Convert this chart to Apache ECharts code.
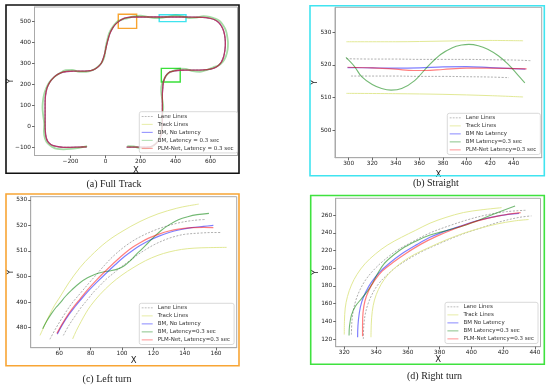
<!DOCTYPE html>
<html><head><meta charset="utf-8">
<script src="https://cdn.jsdelivr.net/npm/echarts@6/dist/echarts.min.js"></script>
<style>html,body{margin:0;padding:0;background:#fff}#c{width:550px;height:387px}</style>
</head><body><div id="c"></div>
<script>
// ================= DATA =================
// (a) Full track
const fullCenter = [[-107,-98],[-150,-99],[-200,-100],[-241,-100],[-280,-96],[-310,-88],[-330,-72],[-340,-50],[-344,-20],[-345,20],[-345,60],[-345,100],[-344,135],[-339,165],[-329,192],[-311,218],[-285,240],[-255,254],[-222,260],[-180,262],[-140,262],[-100,263],[-70,268],[-45,280],[-25,298],[-13,322],[-3,350],[5,380],[14,410],[25,440],[40,465],[58,485],[80,500],[105,512],[130,517],[160,519],[200,519],[250,519],[300,519],[350,519],[400,519],[450,519],[500,518],[550,517],[590,514],[620,507],[645,494],[663,475],[676,450],[683,420],[685,390],[682,360],[675,330],[662,305],[640,285],[616,275],[580,269],[540,267],[500,267],[460,267],[426,266],[395,263],[369,258],[350,245],[338,228],[330,205],[327,179],[325,150],[325,110],[325,68],[325,30],[324,0],[320,-30],[310,-58],[292,-80],[265,-95],[235,-99],[197,-99],[160,-99],[121,-99]];
const fullBMLatency = [[-105,-95],[-150,-103],[-200,-108],[-240,-110],[-275,-108],[-305,-98],[-330,-82],[-346,-58],[-352,-25],[-350,10],[-356,50],[-360,90],[-356,130],[-348,160],[-335,188],[-318,212],[-290,236],[-262,252],[-228,266],[-190,268],[-150,258],[-110,258],[-75,266],[-45,282],[-22,302],[-8,326],[-2,352],[2,380],[10,410],[20,440],[33,462],[50,482],[72,500],[100,508],[130,514],[160,522],[200,525],[240,520],[280,514],[320,515],[360,521],[400,526],[440,522],[480,514],[520,516],[560,523],[595,520],[625,512],[652,500],[672,480],[688,455],[696,425],[700,395],[698,365],[688,332],[670,306],[645,289],[616,280],[580,268],[540,259],[500,262],[460,272],[426,274],[395,266],[365,255],[345,238],[333,220],[322,200],[318,175],[320,150],[326,120],[330,90],[326,60],[320,30],[322,0],[318,-30],[305,-58],[288,-82],[260,-101],[230,-106],[195,-104],[160,-96],[125,-95]];
const zoomBoxLeft = [[73,465],[178,532]];
const zoomBoxStraight = [[307,497],[460,530]];
const zoomBoxRight = [[319,210],[427,275]];
const fullXTicks = [-200,0,200,400,600];
const fullYTicks = [-100,0,100,200,300,400,500];

// (b) Straight
const straightLaneUpper = [[298,521.9],[320,521.8],[340,521.8],[360,521.7],[380,521.7],[400,521.7],[420,521.6],[440,521.5],[455,521.3]];
const straightLaneLower = [[302,516.6],[320,516.6],[340,516.6],[360,516.5],[380,516.5],[400,516.4],[420,516.3],[436,516.1]];
const straightTrackUpper = [[298,527.1],[340,527.1],[380,527.3],[420,527.5],[448,527.4]];
const straightTrackLower = [[298,511.3],[340,511.2],[380,511.0],[420,510.6],[448,510.2]];
const straightBM = [[299,519.2],[320,519.1],[340,519.0],[360,519.1],[380,519.4],[400,519.5],[420,519.2],[440,518.9],[450,518.7]];
const straightBMLatency = [[297.7,522.3],[305,519.5],[311,516.4],[320,514],[328,512.8],[336,512.3],[345,512.8],[356,515.2],[367,519.5],[378,523.2],[388,525.3],[396,526.1],[402,526.3],[410,525.9],[418,524.8],[427,522.8],[435,520.3],[442,517.6],[449.5,514.5]];
const straightPLM = [[299,519.3],[320,519.1],[340,518.7],[355,518.3],[365,518.3],[380,518.6],[400,519.0],[420,519.0],[440,518.9],[451,518.8]];
const straightXTicks = [300,320,340,360,380,400,420,440];
const straightYTicks = [500,510,520,530];

// (c) Left turn
const leftLaneUpper = [[54,475.5],[58,480],[63,485],[68,489.5],[73.2,493.3],[79,497.5],[84,501],[89,504.5],[94.5,508],[103,512.3],[111.5,515.5],[123,518.6],[135,520.8],[145,521.9],[153,522.3]];
const leftLaneLower = [[62.6,477],[66,480.8],[70,484.5],[74,488],[78,491],[82,494],[86,496.5],[90,499],[95,501.5],[100,504],[105,506.2],[110,508.5],[115,510.5],[121,512.6],[128,514.5],[134,515.7],[140,516.5],[150,517],[158,517.2],[163.6,517.2]];
const leftTrackUpper = [[47.7,477],[51,481.5],[54,485.3],[57,488.8],[60.4,492],[66,497.5],[73.2,503.5],[80,508],[90,513.5],[100,517.6],[111.5,521.5],[123,524.5],[135,526.7],[142,527.6],[149,528.3]];
const leftTrackLower = [[68.5,475.6],[71,479],[74,482.5],[77,485.8],[80,488.6],[86,493],[93,497.2],[100,500.6],[107,503.4],[115,506.2],[123,508.3],[130,509.6],[138,510.6],[146,511.1],[155,511.3],[166.8,511.4]];
const leftBM = [[58.7,477.5],[62,481.2],[66,485],[70,488.2],[73.2,490.6],[78,494],[84,497.8],[90.2,501.5],[96,504.8],[102,508],[107,510.3],[111.5,512.1],[117,514],[123.2,515.7],[130,517.2],[137,518.3],[144.5,519.1],[152,519.6],[158.3,520]];
const leftBMLatency = [[49.4,479.6],[52,482.6],[55,485.5],[58,488],[60.4,489.6],[64,492.3],[68,494.8],[73,497.5],[78,499.5],[83,500.9],[88,501.8],[93,502.3],[97,502.9],[101,504],[105,506],[109,508.6],[113,510.9],[117,513.4],[121,515.8],[125,518],[130,520.2],[136,522.2],[142,523.4],[148,524.2],[155.5,524.7]];
const leftPLM = [[58.5,477.8],[62,481.6],[66,485.5],[70,488.8],[73.2,491.2],[78,494.8],[84,498.8],[90.2,502.6],[96,506],[102,509.2],[107,511.5],[111.5,513.2],[117,515],[123.2,516.5],[130,517.8],[137,518.6],[144.5,519.1],[152,519.2],[158.3,519.1]];
const leftXTicks = [60,80,100,120,140,160];
const leftYTicks = [480,490,500,510,520,530];

// (d) Right turn
const rightLaneOuter = [[324.5,125],[324.8,140],[325.8,153],[327.5,165],[330,176],[333.5,187],[338.5,198],[345,209],[353,220],[363,230],[374,240],[386,248],[398,255],[410,260.5],[422,264],[434.7,265.6]];
const rightLaneInner = [[332,120],[332.3,135],[333.2,148],[335,160],[337.5,170.5],[341,181],[346,191],[352.5,201],[360,210],[369,219],[380,228],[392,237],[405,245],[418,252.5],[430,257.5],[437.8,259.2]];
const rightTrackOuter = [[320,125],[320.1,140],[320.6,155],[322,168],[324.5,181],[328,193],[333,205],[339.5,216],[347,226],[356,235],[365,243],[374,251],[384,257.5],[395,263],[406,266],[419,268.5]];
const rightTrackInner = [[336.8,122],[337,137],[337.6,151],[339,164],[341.5,176],[345,187],[350,197.5],[356.5,207],[364,215.5],[374,224],[384,232],[395,239.5],[406,245.5],[416,250],[427,253.5],[436,255.1]];
const rightBM = [[328.4,122],[328.6,135],[329.5,150],[331,162],[333.5,173],[337,184],[342,195],[348,205],[356,216],[366,227],[374,235],[380,239.5],[392,247],[404,254],[418,259.5],[430,262]];
const rightBMLatency = [[323,124],[323.3,135],[324.5,147],[327,157],[331,166],[335,175],[338,184],[341,194],[345,205],[351,215],[358,224],[366,231.5],[374,237.5],[384,242.5],[395,248],[405,254.5],[415,262],[427.5,270.5]];
const rightPLM = [[331.5,123],[331.5,135],[331.8,150],[333,163],[335.5,175],[339,186],[344,197],[351,207],[359,217],[368,227],[378,236],[390,245],[404,253.5],[418,259.5],[431,263]];
const rightXTicks = [320,340,360,380,400,420,440];
const rightYTicks = [120,140,160,180,200,220,240,260];

const namesA = ['Lane Lines','Track Lines','BM, No Latency','BM, Latency = 0.3 sec','PLM-Net, Latency = 0.3 sec'];
const namesB = ['Lane Lines','Track Lines','BM No Latency','BM Latency=0.3 sec','PLM-Net Latency=0.3 sec'];
const namesC = ['Lane Lines','Track Lines','BM, No Latency','BM, Latency=0.3 sec','PLM-Net, Latency=0.3 sec'];
const namesD = ['Lane Lines','Track Lines','BM No Latency','BM Latency=0.3 sec','PLM-Net Latency=0.3 sec'];
const captions = ['(a) Full Track','(b) Straight','(c) Left turn','(d) Right turn'];

// ================= STYLE / LAYOUT =================
const FONT = 'DejaVu Sans';
const C_LANE = '#a6a6a6', C_TRACK = '#e2e996';
const C_BLUE = 'rgba(0,0,255,0.5)', C_GREEN = 'rgba(0,128,0,0.55)', C_RED = 'rgba(255,0,0,0.5)';
const C_GREEN_A = 'rgba(40,170,40,0.42)';
const grids = [
  {left:34.5, top:7, width:203, height:148.5},
  {left:335, top:7.3, width:206.7, height:150.4},
  {left:30.7, top:196.7, width:206, height:151},
  {left:335.7, top:198.3, width:204.8, height:148.4}
];
const ranges = [
  {x:[-405.7,754.3], y:[-139,566.5], xt:fullXTicks, yt:fullYTicks, xg:10.5, yg:19.5},
  {x:[288.4,463.8], y:[491.6,537.65], xt:straightXTicks, yt:straightYTicks, xg:13, yg:15.7},
  {x:[41.75,173.2], y:[472.2,531.2], xt:leftXTicks, yt:leftYTicks, xg:9, yg:15.7},
  {x:[314.6,443.5], y:[111.3,279.1], xt:rightXTicks, yt:rightYTicks, xg:9, yg:15.7}
];
const fmt = v => String(v).replace('-', '\u2212');

const xAxis = ranges.map((r,i) => ({
  type:'value', gridIndex:i, min:r.x[0], max:r.x[1],
  name:'X', nameLocation:'middle', nameGap:r.xg, nameMoveOverlap:false,
  nameTextStyle:{fontSize:8.5, color:'#222', fontFamily:FONT},
  axisLine:{show:true, onZero:false, lineStyle:{color:'#aaa', width:1}},
  axisTick:{show:true, length:2.5, customValues:r.xt, lineStyle:{color:'#444', width:0.8}},
  axisLabel:{customValues:r.xt, fontSize:5.8, color:'#222', margin:3, fontFamily:FONT, formatter:fmt},
  splitLine:{show:false}
}));
const yAxis = ranges.map((r,i) => ({
  type:'value', gridIndex:i, min:r.y[0], max:r.y[1],
  name:'Y', nameLocation:'middle', nameGap:r.yg, nameRotate:90, nameMoveOverlap:false,
  nameTextStyle:{fontSize:8.5, color:'#222', fontFamily:FONT},
  axisLine:{show:true, onZero:false, lineStyle:{color:'#aaa', width:1}},
  axisTick:{show:true, length:2.5, customValues:r.yt, lineStyle:{color:'#444', width:0.8}},
  axisLabel:{customValues:r.yt, fontSize:5.8, color:'#222', margin:3.5, fontFamily:FONT, formatter:fmt},
  splitLine:{show:false}
}));

function line(name, data, gi, color, width, dashed) {
  return {
    type:'line', name, data, xAxisIndex:gi, yAxisIndex:gi,
    symbol:'none', smooth:0.35, silent:true,
    lineStyle:{color, width, type: dashed ? [2,1.5] : 'solid', cap:'butt'},
    itemStyle:{color}
  };
}

const series = [];
// (a)
series.push(line(namesA[0], fullCenter, 0, C_LANE, 0.9, true));
series.push(line(namesA[1], fullCenter, 0, C_TRACK, 1, false));
series.push(line(namesA[2], fullCenter, 0, C_BLUE, 1.3, false));
series.push(line(namesA[3], fullBMLatency, 0, C_GREEN_A, 1.8, false));
series.push(line(namesA[4], fullCenter, 0, C_RED, 1.3, false));
// zoom boxes in (a)
series.push({type:'line', name:'boxes', xAxisIndex:0, yAxisIndex:0, data:[], silent:true,
  markArea:{silent:true, label:{show:false},
    data:[
      [{coord:zoomBoxLeft[0], itemStyle:{color:'transparent', borderColor:'#f8a431', borderWidth:1.4}}, {coord:zoomBoxLeft[1]}],
      [{coord:zoomBoxStraight[0], itemStyle:{color:'transparent', borderColor:'#3fe3ee', borderWidth:1.4}}, {coord:zoomBoxStraight[1]}],
      [{coord:zoomBoxRight[0], itemStyle:{color:'transparent', borderColor:'#3ae03a', borderWidth:1.4}}, {coord:zoomBoxRight[1]}]
    ]}});
// (b)
series.push(line(namesB[0], straightLaneUpper, 1, C_LANE, 0.9, true));
series.push(line(namesB[0], straightLaneLower, 1, C_LANE, 0.9, true));
series.push(line(namesB[1], straightTrackUpper, 1, C_TRACK, 1, false));
series.push(line(namesB[1], straightTrackLower, 1, C_TRACK, 1, false));
series.push(line(namesB[2], straightBM, 1, C_BLUE, 1.2, false));
series.push(line(namesB[3], straightBMLatency, 1, C_GREEN, 1.1, false));
series.push(line(namesB[4], straightPLM, 1, C_RED, 1.2, false));
// (c)
series.push(line(namesC[0], leftLaneUpper, 2, C_LANE, 0.9, true));
series.push(line(namesC[0], leftLaneLower, 2, C_LANE, 0.9, true));
series.push(line(namesC[1], leftTrackUpper, 2, C_TRACK, 1, false));
series.push(line(namesC[1], leftTrackLower, 2, C_TRACK, 1, false));
series.push(line(namesC[2], leftBM, 2, C_BLUE, 1.2, false));
series.push(line(namesC[3], leftBMLatency, 2, C_GREEN, 1.1, false));
series.push(line(namesC[4], leftPLM, 2, C_RED, 1.2, false));
// (d)
series.push(line(namesD[0], rightLaneOuter, 3, C_LANE, 0.9, true));
series.push(line(namesD[0], rightLaneInner, 3, C_LANE, 0.9, true));
series.push(line(namesD[1], rightTrackOuter, 3, C_TRACK, 1, false));
series.push(line(namesD[1], rightTrackInner, 3, C_TRACK, 1, false));
series.push(line(namesD[2], rightBM, 3, C_BLUE, 1.2, false));
series.push(line(namesD[3], rightBMLatency, 3, C_GREEN, 1.1, false));
series.push(line(namesD[4], rightPLM, 3, C_RED, 1.2, false));

const ICON_SOLID = 'path://M0,0h13v1h-13z';
const ICON_DASH = 'path://M0,0h2.2v1h-2.2zM3.6,0h2.2v1h-2.2zM7.2,0h2.2v1h-2.2zM10.8,0h2.2v1h-2.2z';
const legendPos = [{left:139.3, top:111.7}, {left:447.3, top:113.3}, {left:139.3, top:303.3}, {left:445, top:302.3}];
const legendNames = [namesA, namesB, namesC, namesD];
const legendColors = [C_LANE, C_TRACK, 'rgba(0,0,255,0.55)', 'rgba(0,128,0,0.55)', 'rgba(255,0,0,0.5)'];
const legend = legendPos.map((p,i) => ({
  left:p.left, top:p.top, orient:'vertical',
  itemWidth:11, itemHeight:6, itemGap:2, symbolKeepAspect:true,
  padding:[1.6,4,1.6,2.4],
  borderColor:'#d0d0d0', borderWidth:0.8, borderRadius:2,
  backgroundColor:'rgba(255,255,255,0.8)',
  textStyle:{fontSize:5.5, color:'#333', fontFamily:FONT, lineHeight:6},
  selectedMode:false,
  data: legendNames[i].map((n,k) => ({name:n,
    icon: k===0 ? ICON_DASH : ICON_SOLID,
    itemStyle:{color: (i===0 && k===3) ? 'rgba(40,170,40,0.45)' : legendColors[k], borderWidth:0}}))
}));

const graphic = [
  {type:'rect', shape:{x:6, y:5, width:233, height:168.3}, style:{fill:'none', stroke:'#111', lineWidth:1.6}, z:100},
  {type:'rect', shape:{x:310, y:5.7, width:234.3, height:170}, style:{fill:'none', stroke:'#40e4f0', lineWidth:1.6}, z:100},
  {type:'rect', shape:{x:6, y:194, width:233, height:171.7}, style:{fill:'none', stroke:'#f8a535', lineWidth:1.6}, z:100},
  {type:'rect', shape:{x:310.7, y:195.5, width:233.6, height:168.8}, style:{fill:'none', stroke:'#3fe23f', lineWidth:1.6}, z:100},
  {type:'text', x:114, y:184.3, style:{text:captions[0], font:'10px "Liberation Serif"', fill:'#222', align:'center', verticalAlign:'middle'}},
  {type:'text', x:435.8, y:183.3, style:{text:captions[1], font:'10px "Liberation Serif"', fill:'#222', align:'center', verticalAlign:'middle'}},
  {type:'text', x:107, y:379.3, style:{text:captions[2], font:'10px "Liberation Serif"', fill:'#222', align:'center', verticalAlign:'middle'}},
  {type:'text', x:434.5, y:376.7, style:{text:captions[3], font:'10px "Liberation Serif"', fill:'#222', align:'center', verticalAlign:'middle'}}
];

const chart = echarts.init(document.getElementById('c'), null, {renderer:'canvas'});
chart.setOption({
  animation:false,
  backgroundColor:'#fff',
  textStyle:{fontFamily:FONT},
  grid: grids.map(g => Object.assign({show:true, borderColor:'#aaa', borderWidth:1, backgroundColor:'transparent', containLabel:false}, g)),
  xAxis, yAxis, legend, series, graphic
});
</script></body></html>
